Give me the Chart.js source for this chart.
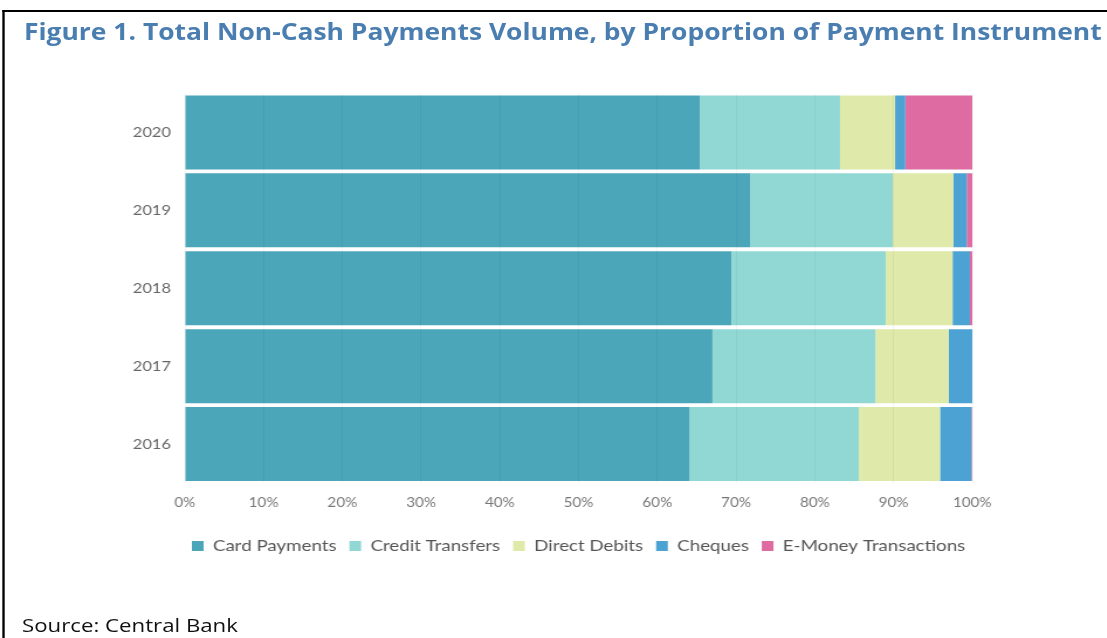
<!DOCTYPE html>
<html>
<head>
<meta charset="utf-8">
<script src="https://cdn.jsdelivr.net/npm/chart.js@4"></script>
<style>
  html, body { margin: 0; padding: 0; background: #fff; }
  body { width: 1107px; height: 638px; position: relative; overflow: hidden; }
  /* the reference figure is stretched sideways, so the whole page is too */
  .page { position: absolute; left: 0; top: 0; width: 946px; height: 638px; transform: scaleX(1.17); transform-origin: 0 0; }
  .frame { position: absolute; left: 1.5px; top: 10px; width: 1000px; height: 700px; border-left: 2px solid #000; border-top: 2px solid #000; }
  .title { position: absolute; left: 20.5px; top: 15.5px; font-family: 'Open Sans', sans-serif; font-weight: bold; font-size: 22.6px; color: #4A7EB0; white-space: nowrap; }
  .source { position: absolute; left: 18.8px; top: 612px; font-family: 'Open Sans', sans-serif; font-size: 19px; color: #111; white-space: nowrap; }
  #chart_payment_instruments { position: absolute; left: 0; top: 0; }
</style>
</head>
<body>
<div class="page">
  <div class="frame"></div>
  <div class="title">Figure 1. Total Non-Cash Payments Volume, by Proportion of Payment Instrument</div>
  <div class="source">Source: Central Bank</div>
  <canvas id="chart_payment_instruments" width="946" height="638"></canvas>
</div>
<script>
  const years = ['2020', '2019', '2018', '2017', '2016'];
  const instruments = ['Card Payments', 'Credit Transfers', 'Direct Debits', 'Cheques', 'E-Money Transactions'];
  const colors = ['#4BA6B9', '#91D8D4', '#DFE9A9', '#4CA2D3', '#DE6CA3'];

  // percent share per year, same order as years
  const cardPayments = [65.4, 71.8, 69.4, 67.0, 64.1];
  const creditTransfers = [17.8, 18.1, 19.6, 20.7, 21.5];
  const directDebits = [7.0, 7.7, 8.5, 9.3, 10.3];
  const cheques = [1.3, 1.7, 2.2, 3.0, 4.0];
  const eMoney = [8.5, 0.7, 0.3, 0.0, 0.1];

  const xTicks = [0, 10, 20, 30, 40, 50, 60, 70, 80, 90, 100];

  let series = [cardPayments, creditTransfers, directDebits, cheques, eMoney];
  let font = "'Lato', 'Open Sans', sans-serif";

  // legend sits centred under the bars, not under the whole canvas
  let centreLegend = {
    id: 'centreLegend',
    afterLayout(chart) {
      let lg = chart.legend;
      let shift = (chart.chartArea.left + chart.chartArea.right) / 2 - (lg.left + lg.right) / 2;
      lg.left += shift;
      lg.right += shift;
    }
  };

  let data = {
    labels: years,
    datasets: series.map((values, i) => ({
      label: instruments[i],
      data: values,
      backgroundColor: colors[i],
      borderWidth: 0,
      categoryPercentage: 1,
      barPercentage: 0.95
    }))
  };

  let options = {
    indexAxis: 'y',
    responsive: false,
    animation: false,
    layout: {
      padding: { top: 93.5, left: 78, right: 115, bottom: 74 }
    },
    scales: {
      x: {
        stacked: true,
        min: 0,
        max: 100,
        afterBuildTicks: (axis) => { axis.ticks = xTicks.map(v => ({ value: v })); },
        afterFit: (axis) => { axis.height = 44; },
        border: { display: false },
        grid: { color: 'rgba(0,0,0,0.04)', drawTicks: false, z: 1 },
        ticks: {
          padding: 12,
          color: '#777',
          font: { family: font, size: 13 },
          callback: (v) => v + '%'
        }
      },
      y: {
        stacked: true,
        afterFit: (axis) => { axis.width = 80; },
        border: { display: false },
        grid: { display: false, drawTicks: false },
        ticks: {
          padding: 12,
          color: '#666',
          font: { family: font, size: 14 }
        }
      }
    },
    plugins: {
      legend: {
        position: 'bottom',
        labels: {
          boxWidth: 10,
          boxHeight: 10,
          padding: 11,
          color: '#555',
          font: { family: font, size: 16 }
        }
      },
      tooltip: { enabled: false }
    }
  };

  new Chart('chart_payment_instruments', { type: 'bar', plugins: [centreLegend], data, options });
</script>
</body>
</html>
